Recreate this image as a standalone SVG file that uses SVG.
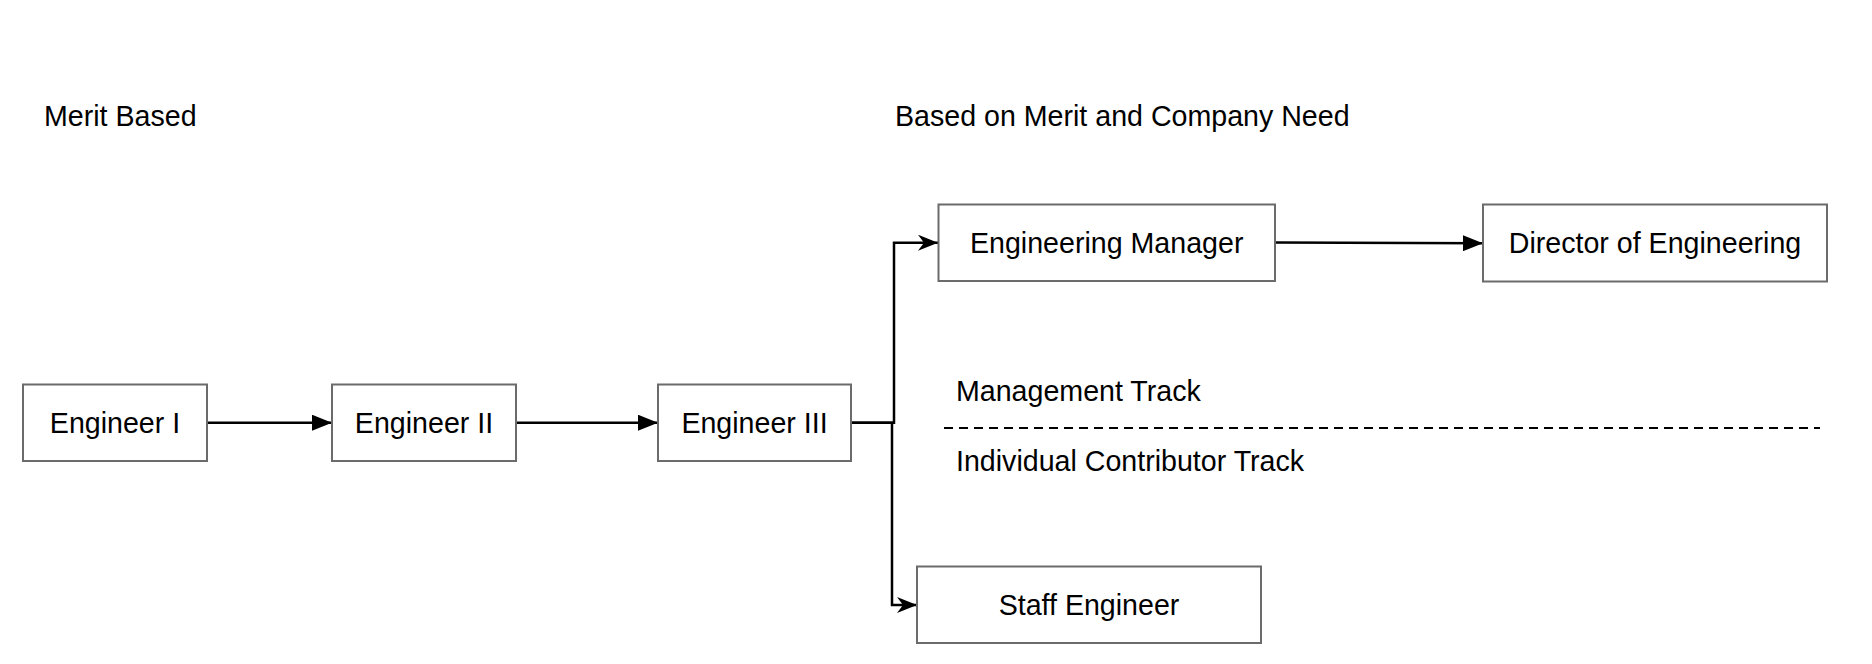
<svg xmlns="http://www.w3.org/2000/svg" width="1872" height="664" viewBox="0 0 1872 664">
<style>
.box{fill:#fff;stroke:#6b6b6b;stroke-width:2}
.t{font-family:"Liberation Sans",Arial,sans-serif;font-size:28.6px;fill:#000}
.c{text-anchor:middle}
.ln{fill:none;stroke:#000;stroke-width:2.5}
</style>
<defs>
<marker id="block" markerUnits="userSpaceOnUse" markerWidth="20" markerHeight="16" refX="20" refY="8" orient="auto">
<path d="M0,0 L20,8 L0,16 Z" fill="#000"/>
</marker>
<marker id="open" markerUnits="userSpaceOnUse" markerWidth="20" markerHeight="16" refX="20" refY="8" orient="auto">
<path d="M0,0 L20,8 L0,16 L6,8 Z" fill="#000"/>
</marker>
</defs>
<rect width="1872" height="664" fill="#fff"/>
<g id="labels">
<text class="t" x="44" y="126">Merit Based</text>
<text class="t" x="895" y="126">Based on Merit and Company Need</text>
<text class="t" x="956" y="401">Management Track</text>
<text class="t" x="956" y="471">Individual Contributor Track</text>
<line x1="944" y1="428" x2="1820" y2="428" stroke="#000" stroke-width="2" stroke-dasharray="9 6"/>
</g>
<g id="connectors">
<path class="ln" d="M207,422.7 H332" marker-end="url(#block)"/>
<path class="ln" d="M516,422.7 H658" marker-end="url(#block)"/>
<path class="ln" d="M851,422.7 H894 V242.7 H938" marker-end="url(#open)"/>
<path class="ln" d="M851,422.7 H892 V605 H917" marker-end="url(#open)"/>
<path class="ln" d="M1275,242.5 L1483,243.3" marker-end="url(#block)"/>
</g>
<g id="engineer-1">
<rect class="box" x="23" y="384.5" width="184" height="76.5"/>
<text class="t c" x="115" y="433">Engineer I</text>
</g>
<g id="engineer-2">
<rect class="box" x="332" y="384.5" width="184" height="76.5"/>
<text class="t c" x="424" y="433">Engineer II</text>
</g>
<g id="engineer-3">
<rect class="box" x="658" y="384.5" width="193" height="76.5"/>
<text class="t c" x="754.5" y="433">Engineer III</text>
</g>
<g id="engineering-manager">
<rect class="box" x="938.5" y="204.5" width="336.5" height="76.5"/>
<text class="t c" x="1106.7" y="252.5">Engineering Manager</text>
</g>
<g id="director-of-engineering">
<rect class="box" x="1483" y="204.5" width="344" height="77"/>
<text class="t c" x="1655" y="253">Director of Engineering</text>
</g>
<g id="staff-engineer">
<rect class="box" x="917" y="566.5" width="344" height="76.5"/>
<text class="t c" x="1089" y="615">Staff Engineer</text>
</g>
</svg>
